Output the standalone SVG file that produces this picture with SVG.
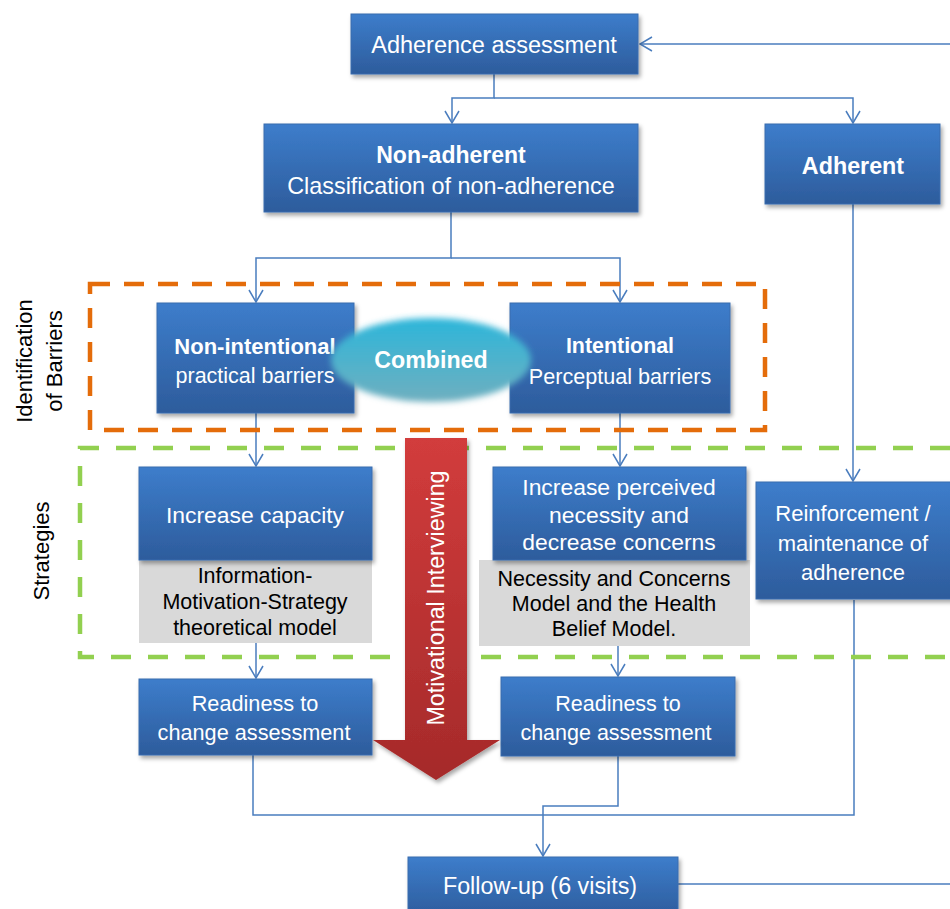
<svg xmlns="http://www.w3.org/2000/svg" width="950" height="909" viewBox="0 0 950 909">
<defs>
<linearGradient id="gBox" x1="0" y1="0" x2="0" y2="1">
<stop offset="0" stop-color="#3D7DCB"/>
<stop offset="1" stop-color="#2D5C9C"/>
</linearGradient>
<linearGradient id="gRed" x1="0" y1="0" x2="0" y2="1">
<stop offset="0" stop-color="#D23C3C"/>
<stop offset="1" stop-color="#A52A2A"/>
</linearGradient>
<linearGradient id="gCyan" x1="0" y1="0" x2="0" y2="1">
<stop offset="0" stop-color="#2DB6DA"/>
<stop offset="1" stop-color="#6FAFBF"/>
</linearGradient>
<filter id="shadow" x="-10%" y="-10%" width="125%" height="130%">
<feDropShadow dx="2" dy="3" stdDeviation="2" flood-color="#000" flood-opacity="0.35"/>
</filter>
<filter id="soft" x="-20%" y="-20%" width="140%" height="140%">
<feGaussianBlur stdDeviation="3"/>
</filter>
<marker id="arr" markerWidth="14" markerHeight="16" refX="13" refY="8" orient="auto" markerUnits="userSpaceOnUse">
<path d="M1,1 L13,8 L1,15" fill="none" stroke="#4A7DBE" stroke-width="1.5"/>
</marker>
<style>
.box{fill:url(#gBox);stroke:#3A6CAE;stroke-width:1;filter:url(#shadow)}
.gray{fill:#D9D9D9}
.t{font-family:"Liberation Sans",Arial,sans-serif;font-size:22px;fill:#fff;text-anchor:middle}
.b{font-weight:bold}
.k{font-family:"Liberation Sans",Arial,sans-serif;font-size:21.5px;fill:#000;text-anchor:middle}
.lab{font-family:"Liberation Sans",Arial,sans-serif;font-size:22px;fill:#000;text-anchor:middle}
.c{fill:none;stroke:#4A7DBE;stroke-width:1.5}
</style>
</defs>
<rect width="950" height="909" fill="#fff"/>

<g id="connectors">
<path class="c" d="M950,44 L640,44" marker-end="url(#arr)"/>
<path class="c" d="M494,74 L494,98 L452,98 L452,123" marker-end="url(#arr)"/>
<path class="c" d="M494,98 L853,98 L853,123" marker-end="url(#arr)"/>
<path class="c" d="M451,212 L451,258 L256,258 L256,302" marker-end="url(#arr)"/>
<path class="c" d="M451,258 L620,258 L620,302" marker-end="url(#arr)"/>
<path class="c" d="M256,413 L256,466" marker-end="url(#arr)"/>
<path class="c" d="M620,413 L620,466" marker-end="url(#arr)"/>
<path class="c" d="M853,204 L853,481" marker-end="url(#arr)"/>
<path class="c" d="M256,643 L256,678" marker-end="url(#arr)"/>
<path class="c" d="M618,646 L618,676" marker-end="url(#arr)"/>
<path class="c" d="M253,755 L253,815 L854,815 L854,600"/>
<path class="c" d="M618,756 L618,806 L543,806 L543,856" marker-end="url(#arr)"/>
<path class="c" d="M678,884 L950,884"/>
</g>

<g id="barriers-frame">
<rect x="90" y="284" width="675" height="146" fill="none" stroke="#E46C0A" stroke-width="4.5" stroke-dasharray="20 14"/>
<text class="lab" transform="translate(32,361) rotate(-90)">Identification</text>
<text class="lab" transform="translate(62,361) rotate(-90)">of Barriers</text>
</g>
<g id="strategies-frame">
<path d="M950,448 L80,448 L80,657 L950,657" fill="none" stroke="#92D050" stroke-width="4.5" stroke-dasharray="20 17"/>
<text class="lab" transform="translate(49,551) rotate(-90)">Strategies</text>
</g>

<g id="adherence-assessment">
<rect class="box" x="351" y="14" width="287" height="60"/>
<text class="t" x="494" y="53" style="font-size:23.5px">Adherence assessment</text>
</g>
<g id="non-adherent">
<rect class="box" x="264" y="124" width="374" height="88"/>
<text class="t b" x="451" y="163" style="font-size:23px">Non-adherent</text>
<text class="t" x="451" y="194" style="font-size:23.4px">Classification of non-adherence</text>
</g>
<g id="adherent">
<rect class="box" x="765" y="124" width="175" height="80"/>
<text class="t b" x="853" y="174" style="font-size:23.3px">Adherent</text>
</g>
<g id="non-intentional">
<rect class="box" x="157" y="303" width="197" height="110"/>
<text class="t b" x="255" y="354">Non-intentional</text>
<text class="t" x="255" y="383" style="font-size:21.5px">practical barriers</text>
</g>
<g id="intentional">
<rect class="box" x="510" y="303" width="220" height="110"/>
<text class="t b" x="620" y="353" style="font-size:21.4px">Intentional</text>
<text class="t" x="620" y="384" style="font-size:21.6px">Perceptual barriers</text>
</g>
<g id="combined">
<ellipse cx="431" cy="360" rx="100" ry="42" fill="url(#gCyan)" filter="url(#soft)"/>
<text class="t b" x="431" y="368" style="font-size:23.2px">Combined</text>
</g>
<g id="increase-capacity">
<rect class="gray" x="139" y="560" width="233" height="83"/>
<rect class="box" x="139" y="467" width="233" height="93"/>
<text class="t" x="255" y="523" style="font-size:22.9px">Increase capacity</text>
<text class="k" x="255" y="583">Information-</text>
<text class="k" x="255" y="609">Motivation-Strategy</text>
<text class="k" x="255" y="635">theoretical model</text>
</g>
<g id="increase-perceived">
<rect class="gray" x="479" y="560" width="271" height="86"/>
<rect class="box" x="493" y="467" width="253" height="93"/>
<text class="t" x="619" y="495" style="font-size:22.9px">Increase perceived</text>
<text class="t" x="619" y="523" style="font-size:22.9px">necessity and</text>
<text class="t" x="619" y="550" style="font-size:22.9px">decrease concerns</text>
<text class="k" x="614" y="586">Necessity and Concerns</text>
<text class="k" x="614" y="611">Model and the Health</text>
<text class="k" x="614" y="636">Belief Model.</text>
</g>
<g id="reinforcement">
<rect class="box" x="756" y="482" width="200" height="117"/>
<text class="t" x="853" y="521">Reinforcement /</text>
<text class="t" x="853" y="551">maintenance of</text>
<text class="t" x="853" y="580">adherence</text>
</g>
<g id="readiness-left">
<rect class="box" x="139" y="679" width="233" height="76"/>
<text class="t" x="255" y="711" style="font-size:21.7px">Readiness to</text>
<text class="t" x="254" y="740" style="font-size:21.7px">change assessment</text>
</g>
<g id="readiness-right">
<rect class="box" x="501" y="677" width="234" height="79"/>
<text class="t" x="618" y="711" style="font-size:21.5px">Readiness to</text>
<text class="t" x="616" y="740" style="font-size:21.5px">change assessment</text>
</g>
<g id="follow-up">
<rect class="box" x="408" y="857" width="270" height="60"/>
<text class="t" x="540" y="894" style="font-size:23.3px">Follow-up (6 visits)</text>
</g>
<g id="motivational-interviewing">
<path d="M405,438 L467,438 L467,740 L500,740 L436,780 L373,740 L405,740 Z" fill="url(#gRed)" filter="url(#shadow)"/>
<text class="t" transform="translate(444,598) rotate(-90)" style="font-size:23.3px">Motivational Interviewing</text>
</g>
</svg>
